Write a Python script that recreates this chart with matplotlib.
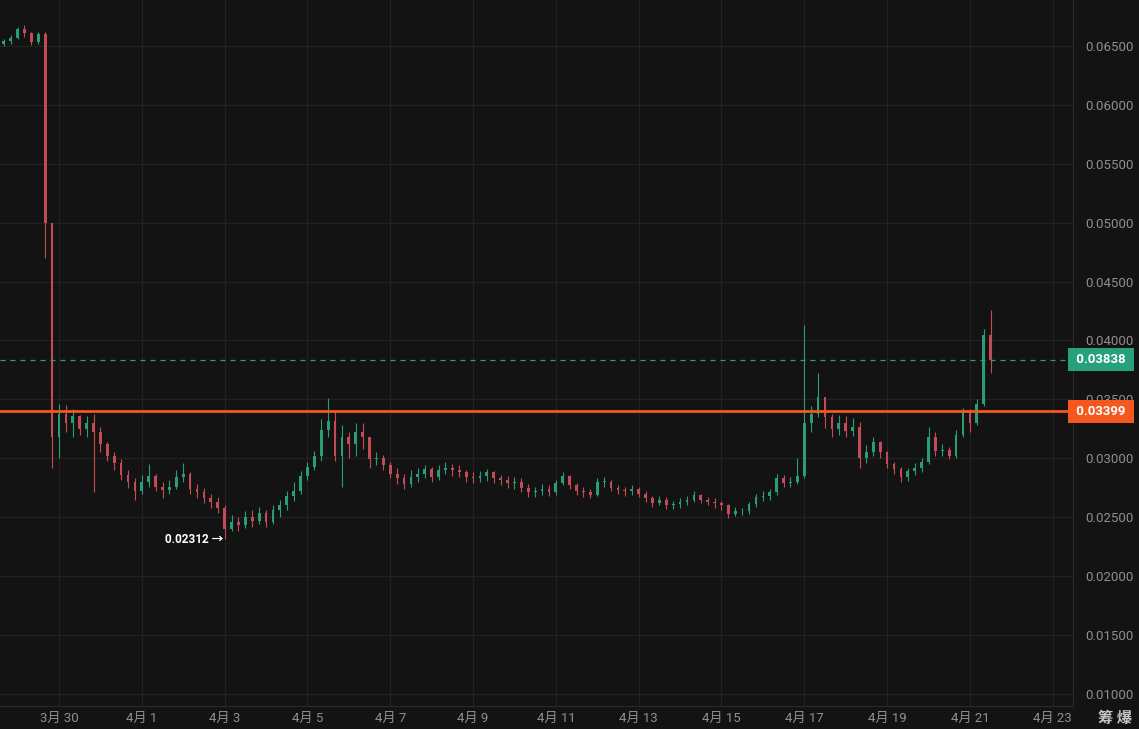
import numpy as np
import pandas as pd
import matplotlib
matplotlib.use("Agg")
import matplotlib.pyplot as plt
import matplotlib.dates as mdates
import matplotlib.transforms as mtransforms

plt.rcParams['font.family'] = ['Roboto', 'Noto Sans CJK SC', 'DejaVu Sans']

# 4h candles, first one 3/28 16:00
start = "2024-03-28 16:00"
open0 = 0.0652
close = [0.0654, 0.0657, 0.0664, 0.0661, 0.0653, 0.0660, 0.0500, 0.0318,
         0.0338, 0.0330, 0.0336, 0.0325, 0.0330, 0.0322,
         0.0312, 0.0302, 0.0296, 0.0286, 0.0280, 0.0272,
         0.0280, 0.0285, 0.0276, 0.0273, 0.0276, 0.0284,
         0.0287, 0.0274, 0.0271, 0.0266, 0.0263, 0.0258,
         0.0240, 0.0246, 0.0243, 0.0250, 0.0247, 0.0254,
         0.0246, 0.0256, 0.0260, 0.0268, 0.0272, 0.0285,
         0.0293, 0.0302, 0.0324, 0.0332, 0.0302, 0.0318,
         0.0312, 0.0322, 0.0318, 0.0299, 0.0300, 0.0294,
         0.0287, 0.0283, 0.0278, 0.0284, 0.0287, 0.0291,
         0.0284, 0.0290, 0.0292, 0.0290, 0.0288, 0.0284,
         0.0283, 0.0285, 0.0288, 0.0283, 0.0282, 0.0279,
         0.0280, 0.0275, 0.0271, 0.0272, 0.0274, 0.0271,
         0.0279, 0.0285, 0.0277, 0.0272, 0.0271, 0.0269,
         0.0280, 0.0280, 0.0275, 0.0273, 0.0272, 0.0274,
         0.0270, 0.0266, 0.0262, 0.0265, 0.0260, 0.0261,
         0.0263, 0.0265, 0.0269, 0.0265, 0.0263, 0.0262,
         0.0260, 0.0253, 0.0255, 0.0255, 0.0261, 0.0267,
         0.0268, 0.0271, 0.0283, 0.0279, 0.0280, 0.0285,
         0.0330, 0.0338, 0.0352, 0.0335, 0.0325, 0.0330,
         0.0323, 0.0327, 0.0300, 0.0305, 0.0314, 0.0305,
         0.0295, 0.0291, 0.0284, 0.0289, 0.0292, 0.0297,
         0.0318, 0.0306, 0.0307, 0.0302, 0.0320, 0.0340,
         0.0330, 0.0346, 0.0405, 0.03838]
high = [0.0656, 0.0659, 0.0666, 0.0668, 0.0662, 0.0662, 0.0662, 0.0500,
        0.0346, 0.0345, 0.0342, 0.0337, 0.0336, 0.0338,
        0.0327, 0.0314, 0.0305, 0.0299, 0.0290, 0.0283,
        0.0286, 0.0295, 0.0287, 0.0280, 0.0282, 0.0290,
        0.0296, 0.0288, 0.0278, 0.0275, 0.0270, 0.0267,
        0.0260, 0.0252, 0.0250, 0.0255, 0.0256, 0.0259,
        0.0256, 0.0260, 0.0265, 0.0272, 0.0280, 0.0289,
        0.0297, 0.0306, 0.0333, 0.0351, 0.0340, 0.0328,
        0.0322, 0.0330, 0.0330, 0.0316, 0.0305, 0.0303,
        0.0297, 0.0292, 0.0287, 0.0290, 0.0292, 0.0294,
        0.0293, 0.0294, 0.0297, 0.0295, 0.0294, 0.0290,
        0.0288, 0.0289, 0.0291, 0.0289, 0.0286, 0.0285,
        0.0284, 0.0283, 0.0278, 0.0276, 0.0278, 0.0277,
        0.0282, 0.0288, 0.0286, 0.0279, 0.0276, 0.0274,
        0.0283, 0.0284, 0.0282, 0.0277, 0.0276, 0.0277,
        0.0276, 0.0272, 0.0268, 0.0268, 0.0267, 0.0264,
        0.0266, 0.0268, 0.0272, 0.0270, 0.0267, 0.0266,
        0.0264, 0.0261, 0.0259, 0.0258, 0.0263, 0.0270,
        0.0272, 0.0274, 0.0287, 0.0286, 0.0284, 0.0300,
        0.0413, 0.0344, 0.0372, 0.0350, 0.0338, 0.0337,
        0.0336, 0.0334, 0.0331, 0.0311, 0.0318, 0.0315,
        0.0306, 0.0297, 0.0293, 0.0292, 0.0296, 0.0300,
        0.0327, 0.0322, 0.0312, 0.0310, 0.0324, 0.0343,
        0.0342, 0.0350, 0.0410, 0.0426]
low = [0.0650, 0.0652, 0.0656, 0.0658, 0.0651, 0.0652, 0.0470, 0.0292,
       0.0300, 0.0322, 0.0318, 0.0320, 0.0318, 0.0271,
       0.0305, 0.0298, 0.0290, 0.0282, 0.0275, 0.0265,
       0.0270, 0.0276, 0.0272, 0.0266, 0.0270, 0.0274,
       0.0280, 0.0270, 0.0266, 0.0262, 0.0258, 0.0254,
       0.02312, 0.0238, 0.0238, 0.0241, 0.0242, 0.0244,
       0.0242, 0.0244, 0.0250, 0.0256, 0.0264, 0.0270,
       0.0282, 0.0290, 0.0298, 0.0318, 0.0298, 0.0276,
       0.0300, 0.0302, 0.0308, 0.0292, 0.0294, 0.0290,
       0.0283, 0.0278, 0.0274, 0.0276, 0.0280, 0.0283,
       0.0280, 0.0282, 0.0287, 0.0285, 0.0284, 0.0280,
       0.0279, 0.0280, 0.0281, 0.0279, 0.0277, 0.0275,
       0.0274, 0.0271, 0.0267, 0.0267, 0.0269, 0.0268,
       0.0269, 0.0277, 0.0274, 0.0269, 0.0267, 0.0266,
       0.0268, 0.0276, 0.0272, 0.0270, 0.0268, 0.0269,
       0.0267, 0.0263, 0.0259, 0.0260, 0.0257, 0.0257,
       0.0258, 0.0260, 0.0263, 0.0262, 0.0260, 0.0258,
       0.0256, 0.0249, 0.0251, 0.0252, 0.0253, 0.0259,
       0.0264, 0.0265, 0.0269, 0.0276, 0.0276, 0.0278,
       0.0283, 0.0322, 0.0335, 0.0326, 0.0318, 0.0320,
       0.0318, 0.0319, 0.0292, 0.0296, 0.0302, 0.0300,
       0.0292, 0.0287, 0.0280, 0.0281, 0.0286, 0.0288,
       0.0295, 0.0302, 0.0302, 0.0299, 0.0300, 0.0318,
       0.0322, 0.0328, 0.0344, 0.0372]

last_price = 0.03838
level_price = 0.03399
min_price = 0.02312
ytick_vals = [0.010, 0.015, 0.020, 0.025, 0.030, 0.035, 0.040, 0.045, 0.050, 0.055, 0.060, 0.065]
xtick_dates = ["2024-03-30", "2024-04-01", "2024-04-03", "2024-04-05", "2024-04-07", "2024-04-09",
               "2024-04-11", "2024-04-13", "2024-04-15", "2024-04-17", "2024-04-19", "2024-04-21", "2024-04-23"]
xtick_labels = ["3月 30", "4月 1", "4月 3", "4月 5", "4月 7", "4月 9", "4月 11",
                "4月 13", "4月 15", "4月 17", "4月 19", "4月 21", "4月 23"]

bg = '#131313'
grid_c = '#222222'
up_c = '#2a9d77'
down_c = '#c24b55'
orange = '#f4581f'
green_lbl = '#26a17b'

times = pd.date_range(start, periods=len(close), freq="4h")
x = mdates.date2num(times)
c = np.array(close)
o = np.concatenate([[open0], c[:-1]])
h = np.array(high)
l = np.array(low)
up = c >= o
cols = np.where(up, up_c, down_c)

fig = plt.figure(figsize=(11.39, 7.29), dpi=100, facecolor=bg)
ax = fig.add_axes([0, 0.0316, 1073 / 1139, 0.9684])
ax.set_facecolor(bg)

w = 4 / 24 * 0.4
ax.vlines(x, l, h, colors=cols, linewidth=0.8, zorder=3)
body_h = np.abs(c - o)
body_h = np.maximum(body_h, 0.00004)
ax.bar(x, body_h, bottom=np.minimum(o, c), width=w, color=cols, linewidth=0, zorder=3)

ax.set_ylim(0.00898, 0.0689)
ax.set_xlim(mdates.date2num(pd.Timestamp("2024-03-28 13:48")),
            mdates.date2num(pd.Timestamp("2024-04-23 11:45")))

ax.yaxis.tick_right()
ax.set_yticks(ytick_vals)
ax.set_yticklabels(["%.5f" % v for v in ytick_vals])
ax.set_xticks(mdates.date2num(pd.to_datetime(xtick_dates)))
ax.set_xticklabels(xtick_labels)
ax.tick_params(axis='both', length=0, colors='#8f8f8f', labelsize=9.5)
ax.tick_params(axis='y', pad=9)
ax.tick_params(axis='x', pad=4)
ax.grid(True, color=grid_c, linewidth=0.9)
ax.set_axisbelow(True)
for s in ax.spines.values():
    s.set_visible(False)
ax.spines['bottom'].set_visible(True)
ax.spines['bottom'].set_color('#2a2a2a')
ax.spines['right'].set_visible(True)
ax.spines['right'].set_color('#2a2a2a')

# price lines
ax.axhline(level_price, color=orange, linewidth=2, zorder=4)
ax.axhline(last_price, color=green_lbl, linewidth=0.9, linestyle=(0, (4, 4)), zorder=4)

trans = mtransforms.blended_transform_factory(ax.transAxes, ax.transData)
ax.text(1.0, last_price, " 0.03838 ", transform=trans, ha='left', va='center', color='white',
        fontsize=9.5, fontweight='bold', clip_on=False, zorder=10,
        bbox=dict(boxstyle='square,pad=0.4', fc=green_lbl, ec='none'))
ax.text(1.0, level_price, " 0.03399 ", transform=trans, ha='left', va='center', color='white',
        fontsize=9.5, fontweight='bold', clip_on=False, zorder=10,
        bbox=dict(boxstyle='square,pad=0.4', fc=orange, ec='none'))

# low marker
i_min = int(np.argmin(l))
ax.annotate("%.5f →" % min_price, xy=(x[i_min], min_price), xytext=(-1, 0), textcoords='offset points',
            ha='right', va='center', color='white', fontsize=8.5, fontweight='bold')

fig.text(1115 / 1139, 1 - 718 / 729, "筹 爆", ha='center', va='center', color='#c8c8c8',
         fontsize=11, fontweight='bold', family=['Noto Sans CJK SC', 'DejaVu Sans'])

fig.savefig("out.png", dpi=100, facecolor=bg)
